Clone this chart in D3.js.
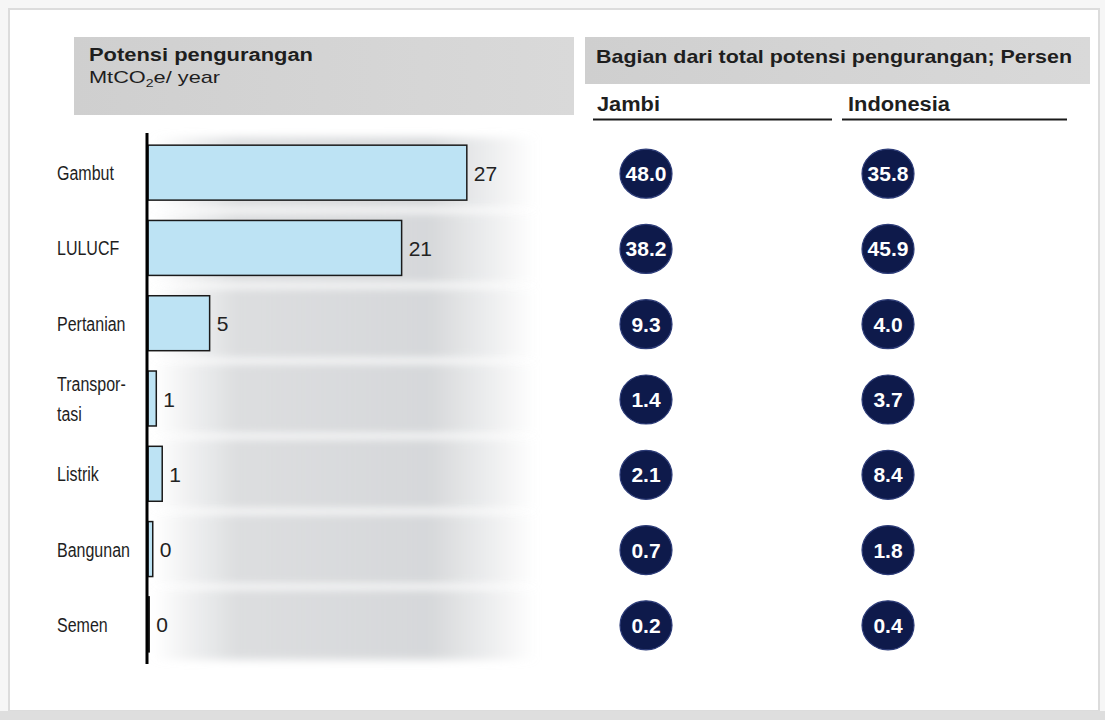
<!DOCTYPE html>
<html>
<head>
<meta charset="utf-8">
<script src="https://cdn.jsdelivr.net/npm/d3@7"></script>
<style>
  body { margin: 0; background: #f6f6f6; }
  svg { display: block; font-family: Arial, "Liberation Sans", sans-serif; }
</style>
</head>
<body>
<svg id="Vis" width="1105" height="720"></svg>
<script>
/*
* DATA
*/

const categories = ["Gambut", "LULUCF", "Pertanian", "Transpor-\ntasi", "Listrik", "Bangunan", "Semen"];
const reduction = [26.9, 21.4, 5.2, 0.7, 1.2, 0.4, 0.1];          // MtCO2e / year
const jambiShare = [48.0, 38.2, 9.3, 1.4, 2.1, 0.7, 0.2];         // percent
const indonesiaShare = [35.8, 45.9, 4.0, 3.7, 8.4, 1.8, 0.4];     // percent
const shareColumns = ["Jambi", "Indonesia"];

/*
* SETUP
*/

const svg = d3.select("svg#Vis");
const defs = svg.append("defs");

/* frame */
svg.append("rect")
  .attr("x", 9).attr("y", 9)
  .attr("width", 1090).attr("height", 702)
  .attr("fill", "#fff")
  .attr("stroke", "#dcdcdc")
  .attr("stroke-width", 2);
svg.append("rect")
  .attr("x", 0).attr("y", 711)
  .attr("width", 1105).attr("height", 9)
  .attr("fill", "#dedede");

/* header boxes */
const headGrad = defs.append("linearGradient").attr("id", "headGrad");
headGrad.append("stop").attr("offset", "0%").attr("stop-color", "#cfcfcf");
headGrad.append("stop").attr("offset", "100%").attr("stop-color", "#d9d9d9");

svg.append("rect")
  .attr("x", 74).attr("y", 37)
  .attr("width", 500).attr("height", 78)
  .attr("fill", "url(#headGrad)");
svg.append("rect")
  .attr("x", 585).attr("y", 37)
  .attr("width", 505).attr("height", 47)
  .attr("fill", "url(#headGrad)");

svg.append("text")
  .attr("x", 89).attr("y", 61)
  .attr("font-size", 17.5).attr("font-weight", "bold")
  .attr("fill", "#1e1e1e")
  .attr("textLength", 224).attr("lengthAdjust", "spacingAndGlyphs")
  .text("Potensi pengurangan");

/* unit line, stretched like the original */
const unit = svg.append("text")
  .attr("transform", "translate(89,83) scale(1.28,1)")
  .attr("font-size", 17)
  .attr("fill", "#1e1e1e");
unit.append("tspan").text("MtCO");
unit.append("tspan").attr("font-size", 11).attr("dy", 4).text("2");
unit.append("tspan").attr("dy", -4).text("e/ year");

svg.append("text")
  .attr("x", 596).attr("y", 63)
  .attr("font-size", 19).attr("font-weight", "bold")
  .attr("fill", "#1e1e1e")
  .attr("textLength", 476).attr("lengthAdjust", "spacingAndGlyphs")
  .text("Bagian dari total potensi pengurangan; Persen");

/*
* SCALES
*/

const x = d3.scaleLinear().domain([0, 27]).range([148, 468]);
const y = d3.scaleBand()
  .domain(categories)
  .range([135, 662])
  .paddingInner(0.27)
  .paddingOuter(0.135);
const mid = c => y(c) + y.bandwidth() / 2;

const rows = categories.map((c, i) => ({
  cat: c,
  value: reduction[i],
  jambi: jambiShare[i],
  indonesia: indonesiaShare[i]
}));

/*
* SHADOW BANDS (the grey smudges behind the bars)
*/

const bandGrad = defs.append("linearGradient").attr("id", "bandGrad");
bandGrad.append("stop").attr("offset", "0%").attr("stop-color", "#d6d8da").attr("stop-opacity", 0);
bandGrad.append("stop").attr("offset", "22%").attr("stop-color", "#d6d8da").attr("stop-opacity", 0.85);
bandGrad.append("stop").attr("offset", "72%").attr("stop-color", "#d6d8da").attr("stop-opacity", 1);
bandGrad.append("stop").attr("offset", "100%").attr("stop-color", "#d6d8da").attr("stop-opacity", 0);

const blur = defs.append("filter").attr("id", "blur")
  .attr("x", "-10%").attr("y", "-30%").attr("width", "120%").attr("height", "160%");
blur.append("feGaussianBlur").attr("stdDeviation", 4);

svg.append("g").attr("id", "bands")
  .selectAll("rect")
  .data(rows)
  .join("rect")
    .attr("x", 152)
    .attr("y", d => y(d.cat) - 8)
    .attr("width", 385)
    .attr("height", y.bandwidth() + 16)
    .attr("fill", "url(#bandGrad)")
    .attr("filter", "url(#blur)");

/*
* BARS
*/

const bars = svg.append("g").attr("id", "bars");

bars.selectAll("rect")
  .data(rows)
  .join("rect")
    .attr("x", x(0))
    .attr("y", d => y(d.cat))
    .attr("width", d => x(d.value) - x(0))
    .attr("height", y.bandwidth())
    .attr("fill", "#bde3f4")
    .attr("stroke", "#1a1a1a")
    .attr("stroke-width", 1.5);

bars.selectAll("text.value")
  .data(rows)
  .join("text")
    .attr("class", "value")
    .attr("x", d => x(d.value) + 7)
    .attr("y", d => mid(d.cat) + 8)
    .attr("font-size", 21)
    .attr("fill", "#222")
    .text(d => d3.format(".0f")(d.value));

/* category labels: tall, narrow type */
const labels = svg.append("g").attr("id", "labels")
  .selectAll("text")
  .data(rows)
  .join("text")
    .attr("transform", d => translate(57, mid(d.cat)) + " scale(0.8,1)")
    .attr("font-size", 20)
    .attr("fill", "#1e1e1e");

labels.each(function(d) {
  const lines = d.cat.split("\n");
  const t = d3.select(this);
  lines.forEach((line, i) => {
    t.append("tspan")
      .attr("x", 0)
      .attr("dy", i === 0 ? (7.5 - (lines.length - 1) * 15) : 30)
      .text(line);
  });
});

/* vertical axis line */
svg.append("line")
  .attr("x1", x(0) - 1).attr("x2", x(0) - 1)
  .attr("y1", 133).attr("y2", 664)
  .attr("stroke", "#000")
  .attr("stroke-width", 3);

/*
* SHARE BUBBLES
*/

const colX = { Jambi: 646, Indonesia: 888 };
const colHead = {
  Jambi: { tx: 597, w: 63, x1: 593, x2: 832 },
  Indonesia: { tx: 848, w: 102, x1: 842, x2: 1067 }
};

shareColumns.forEach(col => {
  const h = colHead[col];
  svg.append("text")
    .attr("x", h.tx).attr("y", 111)
    .attr("font-size", 20).attr("font-weight", "bold")
    .attr("fill", "#1e1e1e")
    .attr("textLength", h.w).attr("lengthAdjust", "spacingAndGlyphs")
    .text(col);
  svg.append("line")
    .attr("x1", h.x1).attr("x2", h.x2)
    .attr("y1", 119.5).attr("y2", 119.5)
    .attr("stroke", "#1a1a1a")
    .attr("stroke-width", 2);

  const key = col === "Jambi" ? "jambi" : "indonesia";
  const g = svg.append("g").attr("class", "bubbles " + key);

  g.selectAll("ellipse")
    .data(rows)
    .join("ellipse")
      .attr("cx", colX[col])
      .attr("cy", d => mid(d.cat) + 1)
      .attr("rx", 26)
      .attr("ry", 24.5)
      .attr("fill", "#0e1a4b")
      .attr("stroke", "#2d3c78")
      .attr("stroke-width", 1.2);

  g.selectAll("text")
    .data(rows)
    .join("text")
      .attr("x", colX[col])
      .attr("y", d => mid(d.cat) + 8.5)
      .attr("text-anchor", "middle")
      .attr("font-size", 21)
      .attr("font-weight", "bold")
      .attr("fill", "#fff")
      .text(d => d3.format(".1f")(d[key]));
});

/*
* HELPER FUNCTIONS
*/

function translate(x, y) {
  return 'translate(' + String(x) + ',' + String(y) + ')';
}
</script>
</body>
</html>
